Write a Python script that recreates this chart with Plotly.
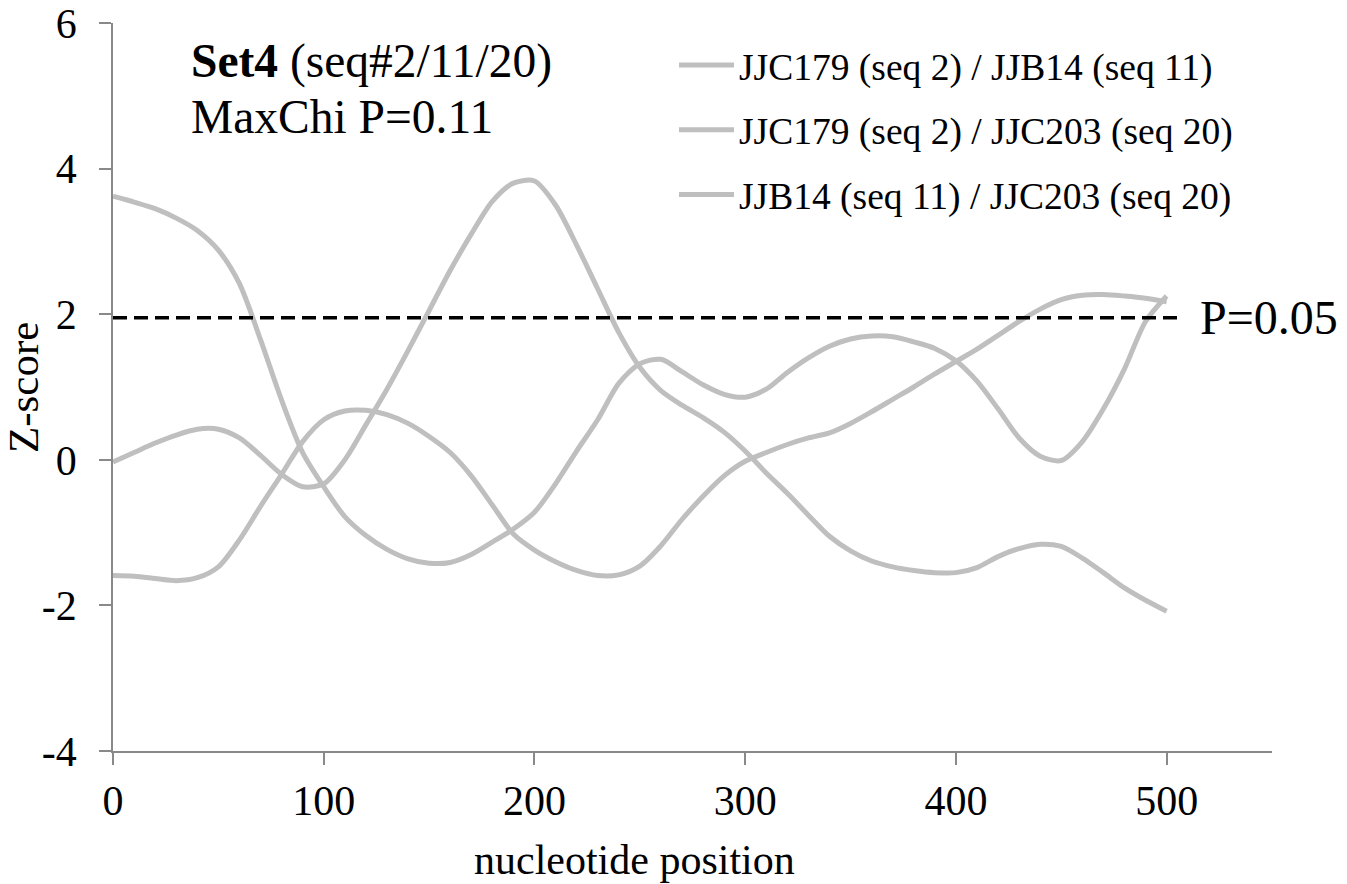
import plotly.graph_objects as go

# ---- data ----
positions = [0, 10, 20, 30, 40, 50, 60, 70, 80, 90, 100, 110, 120, 130, 140, 150, 160, 170, 180, 190,
             200, 210, 220, 230, 240, 250, 260, 270, 280, 290, 300, 310, 320, 330, 340, 350, 360, 370,
             380, 390, 400, 410, 420, 430, 440, 450, 460, 470, 480, 490, 500]

series_names = ["JJC179 (seq 2) / JJB14 (seq 11)",
                "JJC179 (seq 2) / JJC203 (seq 20)",
                "JJB14 (seq 11) / JJC203 (seq 20)"]

z_2_11 = [3.62, 3.54, 3.45, 3.32, 3.15, 2.88, 2.42, 1.65, 0.82, 0.10, -0.37, -0.78, -1.04, -1.23, -1.36,
          -1.42, -1.41, -1.30, -1.13, -0.95, -0.72, -0.33, 0.12, 0.55, 1.05, 1.32, 1.38, 1.21, 1.03, 0.90,
          0.86, 0.97, 1.20, 1.40, 1.56, 1.66, 1.70, 1.69, 1.62, 1.53, 1.36, 1.08, 0.70, 0.30, 0.05, -0.01,
          0.25, 0.70, 1.25, 1.90, 2.25]

z_2_20 = [-0.03, 0.10, 0.23, 0.34, 0.42, 0.42, 0.30, 0.06, -0.20, -0.37, -0.33, 0.00, 0.48, 0.97, 1.50,
          2.05, 2.60, 3.10, 3.55, 3.80, 3.83, 3.50, 2.95, 2.35, 1.75, 1.27, 0.95, 0.75, 0.58, 0.38, 0.12,
          -0.18, -0.46, -0.76, -1.05, -1.25, -1.39, -1.47, -1.52, -1.55, -1.55, -1.48, -1.33, -1.22, -1.16,
          -1.19, -1.35, -1.55, -1.76, -1.93, -2.08]

z_11_20 = [-1.59, -1.60, -1.63, -1.66, -1.62, -1.47, -1.10, -0.64, -0.20, 0.25, 0.55, 0.67, 0.68, 0.62,
           0.50, 0.32, 0.10, -0.22, -0.62, -1.02, -1.24, -1.40, -1.52, -1.59, -1.58, -1.46, -1.18, -0.82,
           -0.50, -0.22, -0.02, 0.10, 0.21, 0.30, 0.37, 0.50, 0.66, 0.83, 1.00, 1.18, 1.35, 1.52, 1.71,
           1.90, 2.07, 2.20, 2.26, 2.27, 2.25, 2.22, 2.17]

threshold_x = [0, 505]
threshold_z = [1.95, 1.95]

x_ticks = [0, 100, 200, 300, 400, 500]
y_ticks = [-4, -2, 0, 2, 4, 6]

# ---- figure ----
FONT = "Liberation Serif, Times New Roman, serif"
GREY = "#bfbfbf"
AXIS = "#898989"

fig = go.Figure()
for i, (name, ys) in enumerate(zip(series_names, [z_2_11, z_2_20, z_11_20])):
    fig.add_trace(go.Scatter(
        x=positions, y=ys, name=name, mode="lines",
        line=dict(color=GREY, width=5, shape="spline", smoothing=0.8),
        legendgroup=f"g{i}",
    ))

fig.add_trace(go.Scatter(
    x=threshold_x, y=threshold_z, mode="lines", showlegend=False,
    line=dict(color="black", width=3.5, dash="14px,7px"),
))

# page body adds an 8px offset; target positions below are in window pixels
OFF = 8
W, H = 1347 - OFF, 884 - OFF
L, R, T, B = 113, 1272, 23, 751


def px(xp):
    return (xp - L) / (R - L)


def py(yp):
    return (B - yp) / (B - T)


fig.update_layout(
    width=W, height=H,
    margin=dict(l=L - OFF, r=W - (R - OFF), t=T - OFF, b=H - (B - OFF), autoexpand=False),
    paper_bgcolor="white", plot_bgcolor="white",
    font=dict(family=FONT, color="black"),
    showlegend=True,
    legend=dict(
        x=px(674), y=py(34), xanchor="left", yanchor="top",
        font=dict(family=FONT, size=37.5, color="black"),
        bgcolor="rgba(0,0,0,0)", traceorder="grouped", tracegroupgap=13,
        itemwidth=55,
    ),
    xaxis=dict(
        range=[0, 550], tickvals=x_ticks, ticktext=[str(v) for v in x_ticks],
        showgrid=False, zeroline=False, showline=True, linecolor=AXIS, linewidth=1.5,
        ticks="outside", ticklen=12, tickwidth=1.5, tickcolor=AXIS,
        tickfont=dict(family=FONT, size=42, color="black"),
        ticklabelstandoff=0, ticklabeloverflow="allow",
    ),
    yaxis=dict(
        range=[-4, 6], tickvals=y_ticks, ticktext=[str(v) for v in y_ticks],
        showgrid=False, zeroline=False, showline=True, linecolor=AXIS, linewidth=1.5,
        ticks="outside", ticklen=12, tickwidth=1.5, tickcolor=AXIS,
        tickfont=dict(family=FONT, size=42, color="black"),
        ticklabelstandoff=14, ticklabeloverflow="allow",
    ),
    annotations=[
        dict(text="<b>Set4</b> (seq#2/11/20)", xref="paper", yref="paper", x=px(189), y=py(61),
             xanchor="left", yanchor="middle", showarrow=False,
             font=dict(family=FONT, size=47.5, color="black")),
        dict(text="MaxChi P=0.11", xref="paper", yref="paper", x=px(189), y=py(117),
             xanchor="left", yanchor="middle", showarrow=False,
             font=dict(family=FONT, size=47.5, color="black")),
        dict(text="P=0.05", xref="paper", yref="y", x=px(1198), y=threshold_z[0],
             xanchor="left", yanchor="middle", showarrow=False,
             font=dict(family=FONT, size=48, color="black")),
        dict(text="nucleotide position", xref="paper", yref="paper", x=px(634), y=py(860),
             xanchor="center", yanchor="middle", showarrow=False,
             font=dict(family=FONT, size=42, color="black")),
        dict(text="Z-score", xref="paper", yref="paper", x=px(23), y=py(388),
             xanchor="center", yanchor="middle", showarrow=False, textangle=-90,
             font=dict(family=FONT, size=43, color="black")),
    ],
)

fig.write_html("out.html")
